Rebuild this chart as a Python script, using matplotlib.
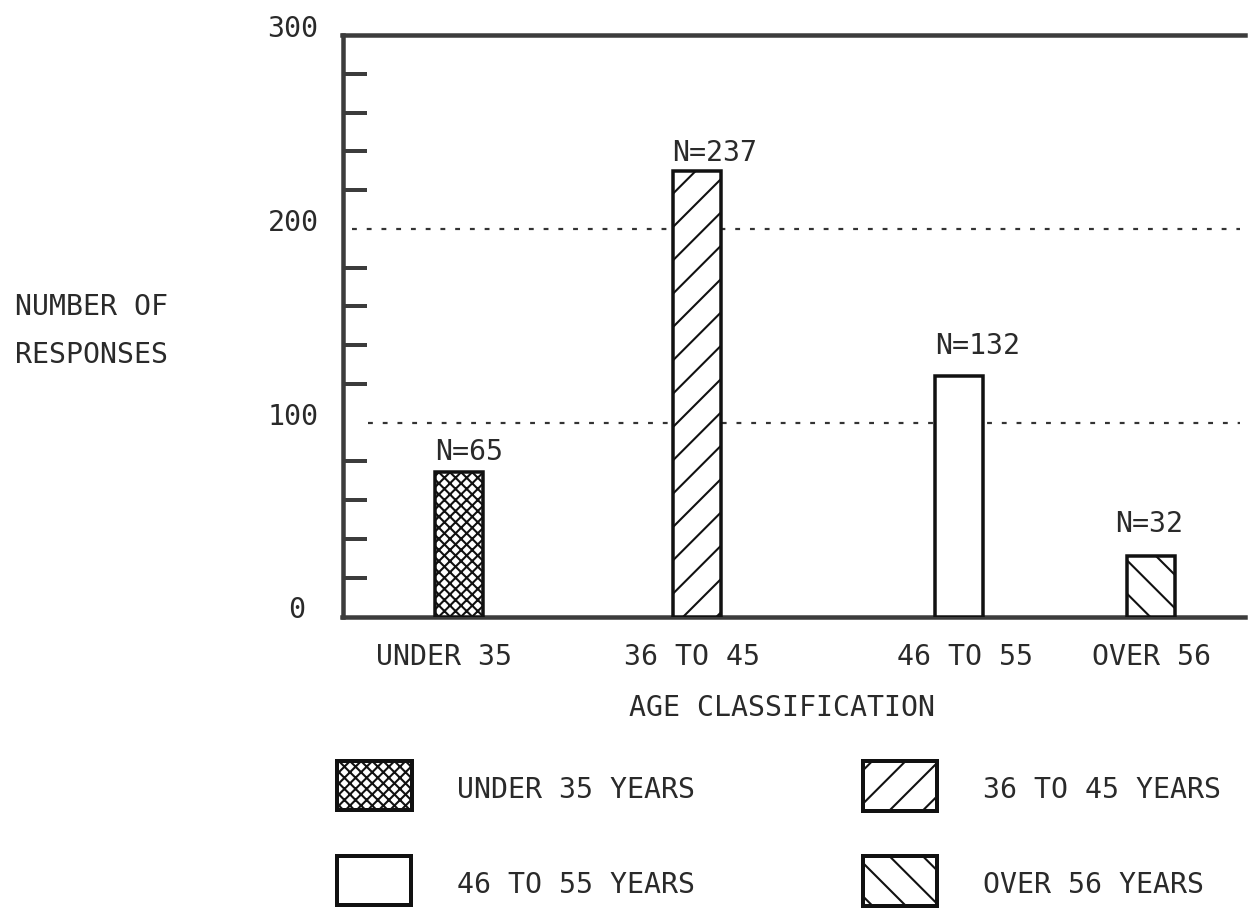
import matplotlib
matplotlib.use('Agg')
import matplotlib.pyplot as plt
from matplotlib.patches import Rectangle

# ---------------- data ----------------
categories = ['UNDER 35', '36 TO 45', '46 TO 55', 'OVER 56']
bar_heights = [74.5, 230, 124, 31]          # heights as drawn in the picture
counts = [65, 237, 132, 32]                 # printed N values
legend_labels = ['UNDER 35 YEARS', '36 TO 45 YEARS', '46 TO 55 YEARS', 'OVER 56 YEARS']
y_tick_values = [0, 100, 200, 300]
y_tick_labels = ['0', '100', '200', '300']
grid_values = [100, 200]
x_title = 'AGE CLASSIFICATION'
y_title = ['NUMBER OF', 'RESPONSES']

# ---------------- layout / style ----------------
DPI = 200
W, H = 1249, 912
FONT = 'DejaVu Sans Mono'
FS = 10.2
hatches = ['xxxxxx', '//', '', '\\\\']
bar_left_px = [435, 673, 935, 1127]
bar_width_px = 48
label_pos_px = [443.5, 692, 965, 1151]
nlabel_dx_px = [0, -1, 0, -12]
nlabel_gap_px = [13, 11, 23, 25]
AX_L, AX_R, AX_T, AX_B = 342.5, 1245, 36, 617.5

plt.rcParams['hatch.linewidth'] = 0.75
plt.rcParams['font.family'] = [FONT]

def pt(px):
    return px * 72.0 / DPI

fig = plt.figure(figsize=(W / DPI, H / DPI), dpi=DPI)
ax = fig.add_axes([AX_L / W, 1 - AX_B / H, (AX_R - AX_L) / W, (AX_B - AX_T) / H])
ax.set_xlim(AX_L, AX_R)
ax.set_ylim(0, 300)

spine_color = '#3c3c3c'
for s in ['left', 'top', 'bottom']:
    ax.spines[s].set_linewidth(pt(4.5))
    ax.spines[s].set_color(spine_color)
ax.spines['right'].set_visible(False)

# minor ticks every 20 (not at the labelled values)
minor = [v for v in range(20, 300, 20) if v % 100 != 0]
ax.set_yticks(minor)
ax.set_yticklabels([])
ax.tick_params(axis='y', direction='in', length=pt(24), width=pt(4), color=spine_color)
ax.set_xticks([])

# dashed reference lines
for gv, start in zip(grid_values, [368, 352]):
    ax.plot([start, 1240], [gv, gv], color='#333333', lw=pt(2.2),
            dashes=(2.2, 4.5), zorder=1)

# bars
bars = ax.bar(bar_left_px, bar_heights, width=bar_width_px, align='edge',
              facecolor='white', edgecolor='#111111', linewidth=pt(3.5), zorder=3)
for b, h in zip(bars, hatches):
    b.set_hatch(h)

# N labels
for left, h, c, dx, gap in zip(bar_left_px, bar_heights, counts, nlabel_dx_px, nlabel_gap_px):
    ax.annotate(f'N={c}', xy=(left, h), xytext=(pt(dx), pt(gap)),
                textcoords='offset points', ha='left', va='baseline',
                fontsize=FS, color='#2a2a2a', zorder=4)

def ftext(x, y, s, **kw):
    fig.text(x / W, 1 - y / H, s, fontsize=FS, color='#2a2a2a', va='baseline', **kw)

# y tick labels (baseline sits on the value)
for v, lab in zip(y_tick_values, y_tick_labels):
    ypx = AX_B - (AX_B - AX_T) * v / 300.0
    ftext(293 if lab != '0' else 297, ypx + 1, lab, ha='center')

# y title
ftext(15, 315, y_title[0], ha='left')
ftext(15, 363, y_title[1], ha='left')

# x category labels
for xp, lab in zip(label_pos_px, categories):
    ftext(xp, 665, lab, ha='center')

# x title
ftext(782, 716, x_title, ha='center')

# legend
legend_boxes = [(337, 762, 75, 49), (863, 762, 74, 50), (337, 857, 74, 49), (863, 857, 74, 50)]
legend_text_pos = [(457, 798), (983, 798), (457, 893), (983, 893)]
for i in range(len(legend_labels)):
    x0, y0, w, h = legend_boxes[i]
    r = Rectangle((x0 / W, 1 - (y0 + h) / H), w / W, h / H, transform=fig.transFigure,
                  facecolor='white', edgecolor='#111111', linewidth=pt(4), hatch=hatches[i])
    fig.add_artist(r)
    tx, ty = legend_text_pos[i]
    ftext(tx, ty, legend_labels[i], ha='left')

fig.savefig('out.png', dpi=DPI, facecolor='white')
